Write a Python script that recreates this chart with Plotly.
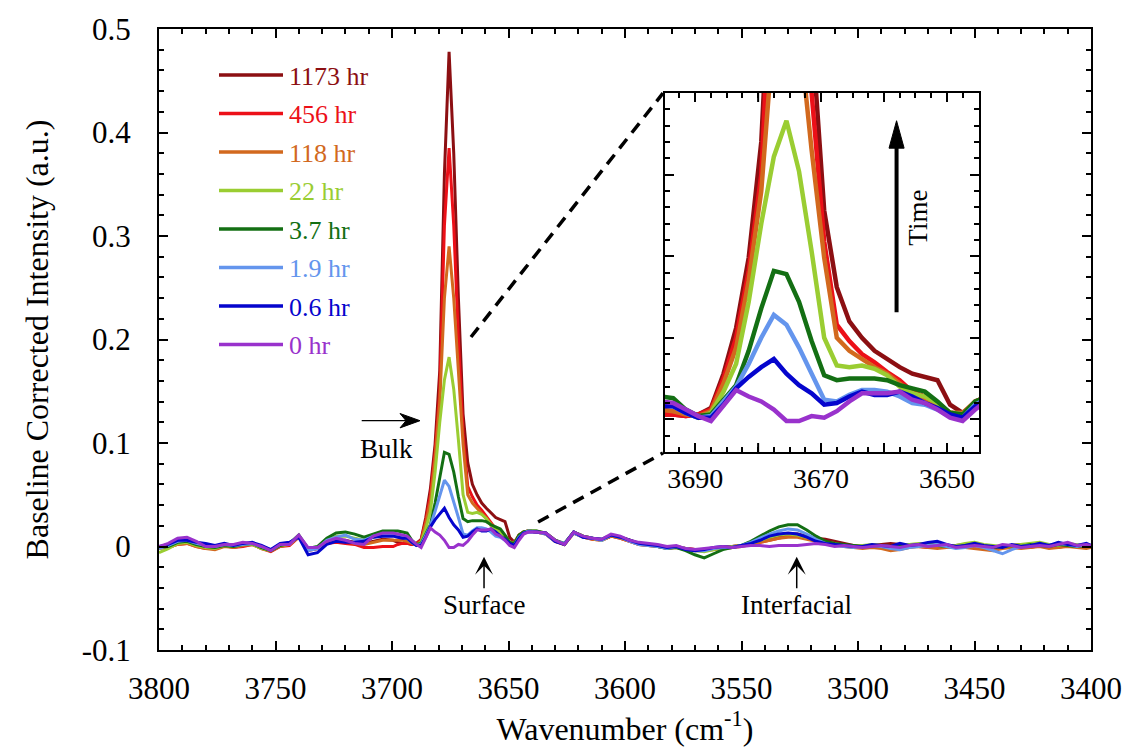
import plotly.graph_objects as go

# ---------------- data ----------------
wavenumber = [
    3800, 3796, 3792, 3788, 3784, 3780, 3776, 3772, 3768, 3764, 3760, 3756, 3752,
    3748, 3744, 3740, 3736, 3732, 3728, 3724, 3720, 3716, 3712, 3708, 3704,
    3699.5, 3697.5, 3695.5, 3693.5, 3691.5, 3689.5, 3687.5, 3685.5, 3683.5, 3681.5,
    3679.5, 3677.5, 3675.5, 3673.5, 3671.5, 3669.5, 3667.5, 3665.5, 3663.5, 3661.5,
    3659.5, 3657.5, 3655.5, 3653.5, 3651.5, 3649.5, 3647.5, 3645.5, 3643.5, 3641.5,
    3638, 3634, 3630, 3626, 3622, 3618, 3614, 3610, 3606, 3602,
    3598, 3594, 3590, 3586, 3582, 3578, 3574, 3570, 3566, 3562,
    3558, 3554, 3550, 3546, 3542, 3538, 3534, 3530, 3526, 3522,
    3518, 3514, 3510, 3506, 3502, 3498, 3494, 3490, 3486, 3482,
    3478, 3474, 3470, 3466, 3462, 3458, 3454, 3450, 3446, 3442,
    3438, 3434, 3430, 3426, 3422, 3418, 3414, 3410, 3406, 3402,
    3400,
]

int_0hr = [
    0.000, 0.003, 0.008, 0.009, 0.005, 0.000, 0.000, 0.002, 0.002, 0.004,
    0.003, 0.000, -0.004, 0.002, 0.002, 0.011, -0.001, -0.001, 0.005, 0.008,
    0.006, 0.003, 0.002, 0.010, 0.013,
    0.013, 0.012, 0.011, 0.010, 0.006, 0.002, -0.001, 0.008, 0.018, 0.014,
    0.011, 0.006, -0.001, -0.001, 0.002, 0.001, 0.005, 0.011, 0.016, 0.016,
    0.016, 0.017, 0.012, 0.010, 0.006, 0.001, -0.001, 0.006, 0.012, 0.014,
    0.014, 0.013, 0.006, 0.002, 0.014, 0.010, 0.008, 0.007, 0.012, 0.010,
    0.006, 0.004, 0.003, 0.002, 0.000, 0.001, -0.002, -0.003, -0.002, -0.001,
    0.000, -0.001, 0.000, 0.001, 0.001, 0.000, 0.001, 0.001, 0.001, 0.002,
    0.003, 0.002, 0.000, 0.001, 0.000, -0.001, 0.000, 0.001, 0.000, -0.001,
    0.001, 0.002, 0.000, 0.001, 0.002, -0.001, 0.000, 0.001, 0.000, -0.001,
    0.002, 0.001, -0.001, 0.000, 0.001, 0.000, 0.002, 0.004, 0.001, 0.002,
    0.001,
]

int_0p6hr = [
    0.000, 0.002, 0.006, 0.006, 0.004, 0.003, 0.001, 0.003, 0.001, 0.003,
    0.004, 0.001, -0.003, 0.003, 0.004, 0.009, -0.008, -0.006, 0.002, 0.005,
    0.004, 0.004, 0.005, 0.009, 0.010,
    0.010, 0.009, 0.008, 0.008, 0.004, 0.001, 0.001, 0.009, 0.019, 0.026,
    0.032, 0.037, 0.028, 0.021, 0.016, 0.009, 0.010, 0.014, 0.017, 0.015,
    0.015, 0.017, 0.014, 0.010, 0.007, 0.003, 0.001, 0.008, 0.013, 0.014,
    0.014, 0.013, 0.005, 0.002, 0.014, 0.009, 0.008, 0.007, 0.011, 0.009,
    0.006, 0.003, 0.002, 0.001, -0.001, 0.000, -0.003, -0.004, -0.003, -0.001,
    0.000, -0.001, 0.001, 0.003, 0.006, 0.010, 0.012, 0.013, 0.012, 0.009,
    0.005, 0.003, 0.002, 0.001, 0.000, 0.000, 0.002, 0.001, 0.000, 0.003,
    0.001, 0.002, 0.004, 0.005, 0.002, 0.000, 0.001, 0.003, 0.001, 0.000,
    -0.001, 0.002, 0.000, 0.001, 0.003, 0.001, 0.004, 0.002, 0.001, 0.003,
    0.001,
]

int_1p9hr = [
    -0.002, 0.001, 0.005, 0.006, 0.003, 0.001, 0.000, 0.002, 0.001, 0.002,
    0.003, 0.000, -0.003, 0.002, 0.003, 0.010, -0.004, -0.002, 0.006, 0.009,
    0.011, 0.007, 0.006, 0.010, 0.012,
    0.012, 0.010, 0.009, 0.008, 0.004, 0.001, 0.002, 0.011, 0.020, 0.034,
    0.050, 0.064, 0.058, 0.044, 0.028, 0.012, 0.011, 0.015, 0.018, 0.018,
    0.017, 0.014, 0.010, 0.009, 0.006, 0.002, 0.001, 0.009, 0.013, 0.015,
    0.014, 0.012, 0.005, 0.003, 0.013, 0.009, 0.008, 0.006, 0.011, 0.009,
    0.005, 0.002, 0.001, 0.000, -0.002, 0.000, -0.002, -0.004, -0.004, -0.002,
    -0.001, -0.001, 0.001, 0.004, 0.008, 0.012, 0.015, 0.017, 0.016, 0.012,
    0.007, 0.003, 0.001, 0.000, -0.001, 0.000, 0.001, 0.000, -0.002, -0.003,
    -0.001, 0.000, 0.001, 0.002, 0.000, -0.002, -0.001, 0.001, -0.001, -0.004,
    -0.007, -0.003, 0.000, 0.001, 0.002, 0.001, 0.003, 0.002, 0.000, 0.002,
    0.001,
]

int_3p7hr = [
    -0.001, 0.000, 0.004, 0.005, 0.002, 0.000, -0.001, 0.001, 0.000, 0.002,
    0.003, -0.001, -0.004, 0.001, 0.003, 0.011, -0.002, 0.000, 0.008, 0.013,
    0.014, 0.012, 0.009, 0.012, 0.015,
    0.015, 0.015, 0.014, 0.013, 0.006, 0.002, 0.003, 0.012, 0.021, 0.042,
    0.068, 0.091, 0.089, 0.072, 0.048, 0.027, 0.024, 0.025, 0.025, 0.025,
    0.024, 0.021, 0.019, 0.017, 0.011, 0.004, 0.003, 0.011, 0.014, 0.015,
    0.015, 0.013, 0.006, 0.003, 0.014, 0.010, 0.008, 0.007, 0.011, 0.009,
    0.006, 0.003, 0.002, 0.000, -0.002, -0.001, -0.004, -0.008, -0.011, -0.007,
    -0.003, -0.001, 0.001, 0.005, 0.010, 0.015, 0.019, 0.021, 0.021, 0.016,
    0.010, 0.005, 0.003, 0.002, 0.001, 0.000, 0.001, 0.000, -0.001, 0.001,
    0.000, 0.001, 0.002, 0.001, 0.000, -0.001, 0.001, 0.002, 0.000, -0.001,
    0.000, 0.001, 0.000, 0.002, 0.001, 0.000, 0.002, 0.001, 0.000, 0.001,
    0.000,
]

int_22hr = [
    -0.006, -0.002, 0.003, 0.004, 0.001, -0.001, -0.002, 0.001, 0.000, 0.002,
    0.002, -0.002, -0.004, 0.001, 0.002, 0.010, -0.003, -0.001, 0.006, 0.010,
    0.010, 0.008, 0.006, 0.009, 0.011,
    0.011, 0.010, 0.009, 0.008, 0.004, 0.001, 0.004, 0.017, 0.034, 0.072,
    0.120, 0.161, 0.183, 0.152, 0.103, 0.050, 0.033, 0.032, 0.033, 0.031,
    0.027, 0.020, 0.016, 0.014, 0.010, 0.004, 0.003, 0.010, 0.014, 0.015,
    0.015, 0.013, 0.006, 0.002, 0.014, 0.010, 0.008, 0.006, 0.011, 0.009,
    0.006, 0.003, 0.002, 0.001, -0.001, 0.000, -0.002, -0.004, -0.005, -0.003,
    -0.001, 0.000, 0.001, 0.003, 0.006, 0.009, 0.011, 0.012, 0.011, 0.009,
    0.006, 0.004, 0.003, 0.001, 0.000, 0.001, 0.002, 0.001, 0.000, 0.001,
    0.002, 0.003, 0.002, 0.001, 0.000, 0.001, 0.003, 0.004, 0.002, 0.001,
    0.000, 0.001, 0.002, 0.003, 0.004, 0.002, 0.001, 0.003, 0.002, 0.001,
    0.000,
]

int_118hr = [
    -0.002, -0.001, 0.002, 0.003, 0.000, -0.002, -0.003, 0.000, -0.001, 0.001,
    0.002, -0.002, -0.004, 0.000, 0.002, 0.009, -0.003, -0.002, 0.004, 0.006,
    0.005, 0.003, 0.002, 0.004, 0.006,
    0.006, 0.006, 0.006, 0.005, 0.003, 0.002, 0.005, 0.022, 0.044, 0.085,
    0.140, 0.240, 0.290, 0.240, 0.165, 0.099, 0.050, 0.042, 0.037, 0.032,
    0.028, 0.022, 0.016, 0.013, 0.009, 0.004, 0.004, 0.011, 0.014, 0.015,
    0.014, 0.012, 0.005, 0.002, 0.013, 0.009, 0.007, 0.006, 0.010, 0.008,
    0.005, 0.002, 0.001, 0.000, -0.002, -0.001, -0.003, -0.004, -0.004, -0.003,
    -0.002, -0.001, 0.000, 0.002, 0.004, 0.006, 0.008, 0.009, 0.009, 0.007,
    0.005, 0.003, 0.002, 0.000, -0.001, -0.002, -0.001, -0.002, -0.004, -0.003,
    -0.001, 0.000, -0.001, -0.002, -0.001, 0.000, -0.001, -0.002, -0.003, -0.004,
    -0.002, -0.001, -0.002, -0.001, 0.000, -0.002, -0.001, 0.000, -0.001, -0.002,
    -0.001,
]

int_456hr = [
    -0.001, -0.001, 0.002, 0.003, 0.000, -0.002, -0.002, 0.001, -0.001, 0.000,
    0.002, -0.002, -0.005, 0.000, 0.001, 0.009, -0.004, -0.002, 0.003, 0.004,
    0.003, 0.002, -0.001, -0.001, 0.000,
    0.000, 0.002, 0.003, 0.003, 0.002, 0.003, 0.006, 0.025, 0.050, 0.091,
    0.150, 0.310, 0.385, 0.310, 0.200, 0.109, 0.058, 0.048, 0.040, 0.035,
    0.029, 0.024, 0.017, 0.014, 0.010, 0.004, 0.003, 0.011, 0.014, 0.015,
    0.014, 0.012, 0.005, 0.002, 0.013, 0.009, 0.007, 0.006, 0.010, 0.008,
    0.005, 0.002, 0.001, 0.000, -0.001, 0.000, -0.002, -0.003, -0.003, -0.002,
    -0.001, 0.000, 0.001, 0.002, 0.004, 0.006, 0.008, 0.010, 0.010, 0.008,
    0.006, 0.004, 0.003, 0.001, 0.000, -0.001, 0.000, -0.001, -0.002, 0.000,
    0.001, 0.000, -0.001, 0.000, 0.001, -0.001, 0.000, 0.001, 0.000, -0.001,
    0.000, 0.001, 0.000, -0.001, 0.001, 0.000, -0.001, 0.001, 0.000, 0.001,
    0.000,
]

int_1173hr = [
    -0.001, 0.000, 0.003, 0.004, 0.001, -0.001, -0.002, 0.001, 0.000, 0.001,
    0.003, -0.001, -0.004, 0.001, 0.002, 0.010, -0.003, -0.002, 0.004, 0.006,
    0.006, 0.004, 0.003, 0.005, 0.007,
    0.006, 0.004, 0.003, 0.003, 0.002, 0.003, 0.007, 0.028, 0.056, 0.099,
    0.170, 0.360, 0.478, 0.380, 0.240, 0.128, 0.081, 0.060, 0.050, 0.042,
    0.037, 0.032, 0.028, 0.026, 0.024, 0.009, 0.004, 0.010, 0.014, 0.015,
    0.014, 0.013, 0.006, 0.002, 0.014, 0.010, 0.008, 0.006, 0.010, 0.009,
    0.006, 0.003, 0.002, 0.001, -0.001, 0.000, -0.002, -0.003, -0.003, -0.002,
    -0.001, 0.000, 0.001, 0.002, 0.005, 0.008, 0.010, 0.012, 0.012, 0.010,
    0.008, 0.007, 0.005, 0.003, 0.001, 0.000, 0.001, 0.002, 0.003, 0.002,
    0.001, 0.002, 0.003, 0.001, 0.000, 0.001, 0.002, 0.001, 0.000, -0.001,
    0.000, 0.001, 0.002, 0.001, 0.000, 0.001, 0.002, 0.001, 0.000, 0.001,
    0.000,
]

series_names = ["1173 hr", "456 hr", "118 hr", "22 hr", "3.7 hr", "1.9 hr", "0.6 hr", "0 hr"]
series_values = [int_1173hr, int_456hr, int_118hr, int_22hr, int_3p7hr, int_1p9hr, int_0p6hr, int_0hr]
series_colors = ["#8c0f12", "#ec1018", "#d2691e", "#9acd32", "#136f13", "#6495ed", "#0505cd", "#9932cc"]

main_ytick_vals = [-0.1, 0, 0.1, 0.2, 0.3, 0.4, 0.5]
main_ytick_text = ["-0.1", "0", "0.1", "0.2", "0.3", "0.4", "0.5"]
inset_xtick_vals = [3690, 3670, 3650]
inset_xtick_text = ["3690", "3670", "3650"]
inset_unlabelled_ticks = [3680, 3660]

for v in series_values:
    assert len(v) == len(wavenumber), len(v)

# ---------------- layout geometry ----------------
W, H = 1130, 748
ML, MR, MT, MB = 159, 39, 29, 98
PW = W - ML - MR
PH = H - MT - MB
INSET_PX = (665, 979, 93, 452)  # left, right, top, bottom in pixels


def pxx(px):
    return (px - ML) / PW


def pxy(py):
    return (H - MB - py) / PH


# main-axis pixel -> data helpers (for annotation placement only)
def wx(px):
    return 3800 - (px - ML) * 400 / PW


def vy(py):
    return 0.5 - (py - MT) * 0.6 / PH


FONT = "Liberation Serif"

fig = go.Figure()
for name, vals, col in zip(series_names, series_values, series_colors):
    fig.add_trace(go.Scatter(x=wavenumber, y=vals, mode="lines", name=name,
                             line=dict(color=col, width=3), xaxis="x", yaxis="y",
                             showlegend=False, hoverinfo="skip"))
for name, vals, col in zip(series_names, series_values, series_colors):
    fig.add_trace(go.Scatter(x=wavenumber, y=vals, mode="lines", name=name,
                             line=dict(color=col, width=4.5), xaxis="x2", yaxis="y2",
                             showlegend=False, hoverinfo="skip"))

axis_common = dict(showline=True, linewidth=2, linecolor="black", mirror="allticks",
                   ticks="inside", tickwidth=2, tickcolor="black", ticklen=9,
                   showgrid=False, zeroline=False)

shapes = []
annotations = []

# manual legend
for i, (name, col) in enumerate(zip(series_names, series_colors)):
    ypx = 75 + 38.5 * i
    shapes.append(dict(type="line", xref="paper", yref="paper",
                       x0=pxx(219), x1=pxx(283), y0=pxy(ypx), y1=pxy(ypx),
                       line=dict(color=col, width=3.3)))
    annotations.append(dict(xref="paper", yref="paper", x=pxx(287), y=pxy(ypx + 1),
                            xanchor="left", yanchor="middle", text=name, showarrow=False,
                            font=dict(family=FONT, size=26, color=col)))

# long unlabelled ticks of the inset x axis (bottom and top)
inset_h = INSET_PX[3] - INSET_PX[2]
for tv in inset_unlabelled_ticks:
    for y0, y1 in [(0, 9 / inset_h), (1 - 9 / inset_h, 1)]:
        shapes.append(dict(type="line", xref="x2", yref="y2 domain", x0=tv, x1=tv, y0=y0, y1=y1,
                           line=dict(color="black", width=2)))

# dashed connector lines
shapes.append(dict(type="line", xref="x", yref="y", x0=3666.1, y0=0.2024, x1=3583.7, y1=0.438,
                   line=dict(color="black", width=3.5, dash="12px,8px")))
shapes.append(dict(type="line", xref="x", yref="y", x0=3637.3, y0=0.0237, x1=3583.7, y1=0.0903,
                   line=dict(color="black", width=3.5, dash="12px,8px")))

# Time arrow in inset
shapes.append(dict(type="line", xref="x2", yref="y2", x0=3658.0, y0=0.0656, x1=3658.0, y1=0.168,
                   line=dict(color="black", width=4)))
shapes.append(dict(type="path", xref="x2", yref="y2",
                   path="M 3659.2,0.1662 L 3656.8,0.1662 L 3658.0,0.183 Z",
                   fillcolor="black", line=dict(color="black", width=1)))
annotations.append(dict(xref="x2", yref="y2", x=3654.6, y=0.1236, text="Time", textangle=-90,
                        showarrow=False, font=dict(family=FONT, size=27, color="black")))

# Bulk arrow (shaft + swept head) and label
shapes.append(dict(type="line", xref="x", yref="y", x0=wx(361.7), y0=vy(420.7),
                   x1=wx(410), y1=vy(420.7), line=dict(color="black", width=1.3)))
shapes.append(dict(type="path", xref="x", yref="y",
                   path=(f"M {wx(420)},{vy(420.7)} L {wx(400)},{vy(413.5)} "
                         f"L {wx(406)},{vy(420.7)} L {wx(400)},{vy(427.9)} Z"),
                   fillcolor="black", line=dict(color="black", width=1)))
annotations.append(dict(xref="x", yref="y", x=wx(386.7), y=vy(449), text="Bulk", showarrow=False,
                        font=dict(family=FONT, size=27, color="black")))

# Surface / Interfacial labels with upward arrows
for xv, label in [(3660.5, "Surface"), (3526.3, "Interfacial")]:
    annotations.append(dict(xref="x", yref="y", x=xv, y=vy(556.7), ax=0, ay=48, text=label,
                            showarrow=True, arrowhead=3, arrowwidth=1.5, arrowsize=2.0,
                            arrowcolor="black", standoff=0, startstandoff=0,
                            font=dict(family=FONT, size=27, color="black")))

tick_font_main = dict(family=FONT, size=31, color="black")

fig.update_layout(
    width=W, height=H, margin=dict(l=ML, r=MR, t=MT, b=MB, autoexpand=False),
    paper_bgcolor="white", plot_bgcolor="white",
    font=dict(family=FONT, color="black"),
    showlegend=False,
    xaxis=dict(axis_common, range=[3800, 3400], domain=[0, 1], anchor="y",
               dtick=50, tick0=3400, tickfont=tick_font_main, ticklabelstandoff=10,
               minor=dict(dtick=10, ticklen=5, tickwidth=1.5, tickcolor="black", ticks="inside"),
               title=dict(text="Wavenumber (cm<sup>-1</sup>)", font=dict(family=FONT, size=32), standoff=12),
               automargin=False),
    yaxis=dict(axis_common, range=[-0.1, 0.5], domain=[0, 1], anchor="x",
               tickvals=main_ytick_vals, ticktext=main_ytick_text, tickfont=tick_font_main,
               ticklabelstandoff=20,
               minor=dict(dtick=0.02, tick0=0, ticklen=5, tickwidth=1.5, tickcolor="black", ticks="inside"),
               title=dict(text="Baseline Corrected Intensity (a.u.)", font=dict(family=FONT, size=32), standoff=24),
               automargin=False),
    xaxis2=dict(axis_common, range=[3694.8, 3644.9],
                domain=[pxx(INSET_PX[0]), pxx(INSET_PX[1])], anchor="y2",
                tickvals=inset_xtick_vals, ticktext=inset_xtick_text,
                tickfont=dict(family=FONT, size=28, color="black"),
                ticklabelstandoff=0,
                minor=dict(dtick=2.5, tick0=3650, ticklen=5, tickwidth=1.5, tickcolor="black", ticks="inside"),
                automargin=False),
    yaxis2=dict(axis_common, range=[-0.02, 0.2],
                domain=[pxy(INSET_PX[3]), pxy(INSET_PX[2])], anchor="x2",
                dtick=0.05, tick0=0, showticklabels=False,
                minor=dict(dtick=0.01, tick0=0, ticklen=5, tickwidth=1.5, tickcolor="black", ticks="inside"),
                automargin=False),
    shapes=shapes,
    annotations=annotations,
)

fig.write_html("out.html")
